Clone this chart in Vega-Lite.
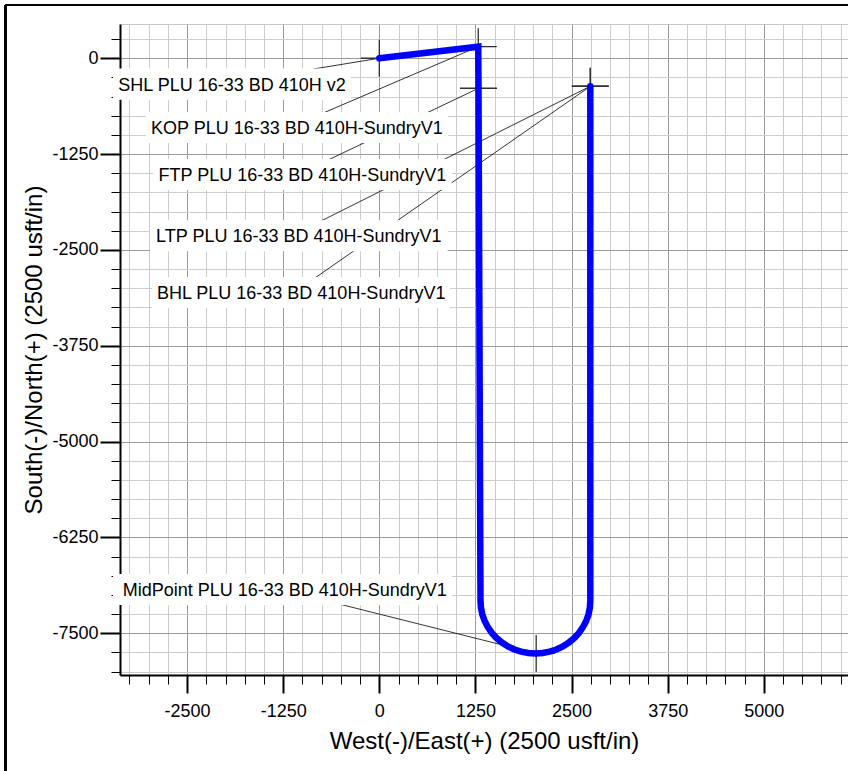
{
  "$schema": "https://vega.github.io/schema/vega-lite/v6.json",
  "width": 728,
  "height": 651,
  "autosize": {"type": "none"},
  "padding": {"left": 120, "top": 24, "right": 0, "bottom": 96},
  "background": "white",
  "config": {"view": {"stroke": "#c8c8c8", "strokeWidth": 1}, "font": "Liberation Sans"},
  "datasets": {
    "path": [
      {"i": 0, "E": 0, "N": 0},
      {"i": 1, "E": 1287, "N": 151},
      {"i": 2, "E": 1290, "N": -391},
      {"i": 3, "E": 1316, "N": -7078},
      {"i": 4, "E": 1322, "N": -7167},
      {"i": 5, "E": 1340, "N": -7255},
      {"i": 6, "E": 1370, "N": -7340},
      {"i": 7, "E": 1412, "N": -7420},
      {"i": 8, "E": 1463, "N": -7495},
      {"i": 9, "E": 1525, "N": -7562},
      {"i": 10, "E": 1595, "N": -7621},
      {"i": 11, "E": 1673, "N": -7671},
      {"i": 12, "E": 1757, "N": -7711},
      {"i": 13, "E": 1845, "N": -7740},
      {"i": 14, "E": 1937, "N": -7757},
      {"i": 15, "E": 2030, "N": -7763},
      {"i": 16, "E": 2123, "N": -7757},
      {"i": 17, "E": 2215, "N": -7740},
      {"i": 18, "E": 2303, "N": -7711},
      {"i": 19, "E": 2387, "N": -7671},
      {"i": 20, "E": 2465, "N": -7621},
      {"i": 21, "E": 2535, "N": -7562},
      {"i": 22, "E": 2597, "N": -7495},
      {"i": 23, "E": 2648, "N": -7420},
      {"i": 24, "E": 2690, "N": -7340},
      {"i": 25, "E": 2720, "N": -7255},
      {"i": 26, "E": 2738, "N": -7167},
      {"i": 27, "E": 2744, "N": -7078},
      {"i": 28, "E": 2744, "N": -365}
    ],
    "markers": [
      {"name": "SHL", "E": 0, "N": 0},
      {"name": "KOP", "E": 1287, "N": 151},
      {"name": "FTP", "E": 1290, "N": -391},
      {"name": "LTP", "E": 2744, "N": -365},
      {"name": "BHL", "E": 2744, "N": -365},
      {"name": "MidPoint", "E": 2040, "N": -7763}
    ],
    "labels": [
      {"name": "SHL", "text": "SHL PLU 16-33 BD 410H v2", "cx": -1915, "base": -423, "bx1": -3463, "bx2": -368, "by1": -135, "by2": -540, "lx": -858, "ly": -140, "tx": 0, "ty": 0},
      {"name": "KOP", "text": "KOP PLU 16-33 BD 410H-SundryV1", "cx": -1072, "base": -987, "bx1": -3038, "bx2": 893, "by1": -700, "by2": -1105, "lx": -706, "ly": -704, "tx": 1287, "ty": 151},
      {"name": "FTP", "text": "FTP PLU 16-33 BD 410H-SundryV1", "cx": -999, "base": -1600, "bx1": -2939, "bx2": 941, "by1": -1313, "by2": -1718, "lx": -693, "ly": -1340, "tx": 1290, "ty": -391},
      {"name": "LTP", "text": "LTP PLU 16-33 BD 410H-SundryV1", "cx": -1046, "base": -2400, "bx1": -2982, "bx2": 889, "by1": -2113, "by2": -2517, "lx": -749, "ly": -2118, "tx": 2744, "ty": -365},
      {"name": "BHL", "text": "BHL PLU 16-33 BD 410H-SundryV1", "cx": -1016, "base": -3139, "bx1": -2952, "bx2": 919, "by1": -2853, "by2": -3257, "lx": -823, "ly": -2856, "tx": 2744, "ty": -365},
      {"name": "MidPoint", "text": "MidPoint PLU 16-33 BD 410H-SundryV1", "cx": -1230, "base": -7013, "bx1": -3463, "bx2": 941, "by1": -6726, "by2": -7131, "lx": -563, "ly": -7108, "tx": 2040, "ty": -7763}
    ]
  },
  "layer": [
    {
      "data": {"name": "markers"},
      "mark": {"type": "rule", "color": "black", "strokeWidth": 2.4, "clip": false},
      "encoding": {
        "x": {"datum": -4861, "type": "quantitative", "scale": {"domain": [-3372, 6095], "nice": false, "zero": false}, "axis": null},
        "y": {"datum": 695, "type": "quantitative", "scale": {"domain": [-8044, 447], "nice": false, "zero": false}, "axis": null},
        "y2": {"datum": -9999}
      }
    },
    {
      "data": {"name": "markers"},
      "mark": {"type": "rule", "color": "black", "strokeWidth": 2.2, "clip": false},
      "encoding": {
        "x": {"datum": -4861, "type": "quantitative", "axis": null},
        "x2": {"datum": 99999},
        "y": {"datum": 695, "type": "quantitative", "axis": null}
      }
    },
    {
      "data": {"name": "labels"},
      "mark": {"type": "rule", "color": "black", "strokeWidth": 0.8},
      "encoding": {
        "x": {"field": "lx", "type": "quantitative", "axis": null},
        "y": {"field": "ly", "type": "quantitative", "axis": null},
        "x2": {"field": "tx"},
        "y2": {"field": "ty"}
      }
    },
    {
      "data": {"name": "labels"},
      "mark": {"type": "rect", "fill": "white", "stroke": null},
      "encoding": {
        "x": {"field": "bx1", "type": "quantitative", "axis": null},
        "x2": {"field": "bx2"},
        "y": {"field": "by1", "type": "quantitative", "axis": null},
        "y2": {"field": "by2"}
      }
    },
    {
      "data": {"name": "labels"},
      "mark": {"type": "text", "align": "center", "baseline": "alphabetic", "font": "Liberation Sans", "fontSize": 18, "color": "black"},
      "encoding": {
        "x": {"field": "cx", "type": "quantitative", "axis": null},
        "y": {"field": "base", "type": "quantitative", "axis": null},
        "text": {"field": "text"}
      }
    },
    {
      "data": {"name": "markers"},
      "mark": {"type": "point", "shape": "M-1,0H1M0,-1V1", "size": 1369, "filled": false, "stroke": "#303030", "strokeWidth": 1.3, "opacity": 1},
      "encoding": {
        "x": {
          "field": "E", "type": "quantitative",
          "axis": {
            "orient": "bottom", "zindex": 0,
            "values": [-2500, -1250, 0, 1250, 2500, 3750, 5000],
            "labelExpr": "'' + datum.value",
            "grid": false, "domain": false,
            "tickSize": 18, "tickWidth": 2, "tickColor": "black",
            "labelFont": "Liberation Sans", "labelFontSize": 18, "labelColor": "black", "labelPadding": 9,
            "labelFlush": false, "labelOverlap": false,
            "title": "West(-)/East(+) (2500 usft/in)",
            "titleFont": "Liberation Sans", "titleFontSize": 24, "titleFontWeight": "normal", "titleColor": "black",
            "titleBaseline": "alphabetic", "titleY": 73
          }
        },
        "y": {
          "field": "N", "type": "quantitative",
          "axis": {
            "orient": "left", "zindex": 0,
            "values": [0, -1250, -2500, -3750, -5000, -6250, -7500],
            "labelExpr": "'' + datum.value",
            "grid": false, "domain": false,
            "tickSize": 20, "tickWidth": 2, "tickColor": "black",
            "labelFont": "Liberation Sans", "labelFontSize": 18, "labelColor": "black", "labelPadding": 2,
            "labelFlush": false, "labelOverlap": false,
            "title": "South(-)/North(+) (2500 usft/in)",
            "titleFont": "Liberation Sans", "titleFontSize": 24, "titleFontWeight": "normal", "titleColor": "black",
            "titleBaseline": "alphabetic", "titleAngle": -90, "titleX": -79, "titleY": 325.5
          }
        }
      }
    },
    {
      "data": {"name": "path"},
      "mark": {"type": "line", "color": "#0000ff", "strokeWidth": 6.5, "strokeCap": "round", "strokeJoin": "miter"},
      "encoding": {
        "x": {
          "field": "E", "type": "quantitative",
          "axis": {
            "orient": "bottom", "zindex": 0,
            "values": [-3250, -3000, -2750, -2500, -2250, -2000, -1750, -1500, -1250, -1000, -750, -500, -250, 0, 250, 500, 750, 1000, 1250, 1500, 1750, 2000, 2250, 2500, 2750, 3000, 3250, 3500, 3750, 4000, 4250, 4500, 4750, 5000, 5250, 5500, 5750, 6000],
            "grid": true,
            "gridColor": {"condition": {"test": "datum.value % 1250 === 0", "value": "#9a9a9a"}, "value": "#cdcdcd"},
            "gridWidth": 1,
            "labels": false, "tickSize": 9, "tickWidth": 1, "tickColor": "black",
            "domain": true, "domainColor": "black", "domainWidth": 2,
            "title": null
          }
        },
        "y": {
          "field": "N", "type": "quantitative",
          "axis": {
            "orient": "left", "zindex": 0,
            "values": [250, 0, -250, -500, -750, -1000, -1250, -1500, -1750, -2000, -2250, -2500, -2750, -3000, -3250, -3500, -3750, -4000, -4250, -4500, -4750, -5000, -5250, -5500, -5750, -6000, -6250, -6500, -6750, -7000, -7250, -7500, -7750, -8000],
            "grid": true,
            "gridColor": {"condition": {"test": "datum.value % 1250 === 0", "value": "#9a9a9a"}, "value": "#cdcdcd"},
            "gridWidth": 1,
            "labels": false, "tickSize": 9, "tickWidth": 1, "tickColor": "black",
            "domain": true, "domainColor": "black", "domainWidth": 2,
            "title": null
          }
        },
        "order": {"field": "i"}
      }
    }
  ],
  "resolve": {"axis": {"x": "independent", "y": "independent"}}
}
